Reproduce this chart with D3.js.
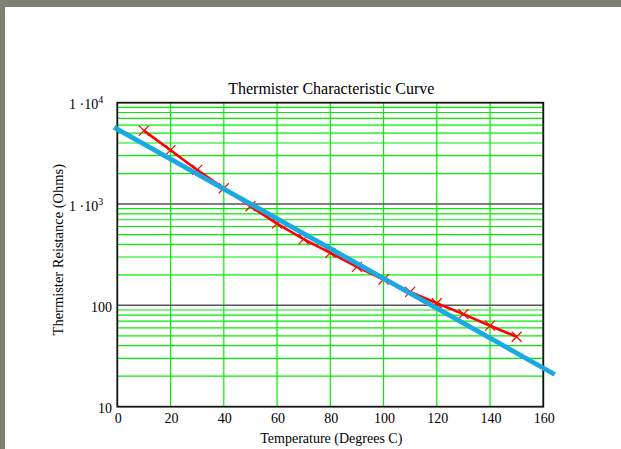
<!DOCTYPE html>
<html lang="en">
<head>
	<meta charset="utf-8">
	<title>Thermister Characteristic Curve</title>
	<script src='https://d3js.org/d3.v7.min.js'></script>
	<style>
		body {margin:0; background:#ffffff;}
		svg text {font-family:"Liberation Serif", "Times New Roman", serif; fill:#000;}
	</style>
</head>
<body>
	<div id="chart"></div>
	<script>
		var tempData = [10, 20, 30, 40, 50, 60, 70, 80, 90, 100, 110, 120, 130, 140, 150];
		var resistanceData = [5300, 3400, 2170, 1430, 950, 640, 450, 330, 240, 180, 136, 105, 82, 63, 49];
		// straight-line fit (end points only)
		var fitTemps = [-1.2, 164.3];
		var fitResistance = [5720, 20.8];
		// axis ticks
		var xTicks = [0, 20, 40, 60, 80, 100, 120, 140, 160];
		var yDecades = [10, 100, 1000, 10000];
		var yLabels = [["10", ""], ["100", ""], ["1 \u00b710", "3"], ["1 \u00b710", "4"]];

		const width = 621;
		const height = 449;
		const plotLeft = 117.3, plotRight = 543.3, plotTop = 102.7, plotBottom = 406.7;

		var svg = d3.select("#chart")
					.append("svg")
					.attr("width", width)
					.attr("height", height);

		// grey window frame on top and left
		svg.append("rect").attr("x", 0).attr("y", 0).attr("width", width).attr("height", 7).attr("fill", "#7f8072");
		svg.append("rect").attr("x", 0).attr("y", 0).attr("width", 5).attr("height", height).attr("fill", "#7f8072");

		var x = d3.scaleLinear().domain([0, 160]).range([plotLeft, plotRight]);
		var y = d3.scaleLog().domain([10, 10000]).range([plotBottom, plotTop]);

		// minor horizontal grid (2..9 of each decade)
		var minor = [];
		yDecades.slice(0, 3).forEach(function (d) {
			for (var k = 2; k <= 9; k++) { minor.push(d * k); }
		});
		svg.append("g").selectAll("line")
			.data(minor)
			.enter().append("line")
			.attr("x1", plotLeft).attr("x2", plotRight)
			.attr("y1", function (d) { return y(d); })
			.attr("y2", function (d) { return y(d); })
			.attr("stroke", "#00ee00")
			.attr("stroke-width", 1.2);

		// vertical grid
		svg.append("g").selectAll("line")
			.data(xTicks.slice(1))
			.enter().append("line")
			.attr("x1", function (d) { return x(d); })
			.attr("x2", function (d) { return x(d); })
			.attr("y1", plotTop).attr("y2", plotBottom)
			.attr("stroke", "#00ee00")
			.attr("stroke-width", 1.2);

		// decade lines
		svg.append("g").selectAll("line")
			.data(yDecades.slice(1, 3))
			.enter().append("line")
			.attr("x1", plotLeft).attr("x2", plotRight)
			.attr("y1", function (d) { return y(d); })
			.attr("y2", function (d) { return y(d); })
			.attr("stroke", "#555")
			.attr("stroke-width", 1.5);

		// border
		svg.append("rect")
			.attr("x", plotLeft).attr("y", plotTop)
			.attr("width", plotRight - plotLeft).attr("height", plotBottom - plotTop)
			.attr("fill", "none")
			.attr("stroke", "#111")
			.attr("stroke-width", 1.8);

		// measured curve
		var line = d3.line()
					.x(function (d, i) { return x(tempData[i]); })
					.y(function (d) { return y(d); });
		svg.append("path")
			.datum(resistanceData)
			.attr("d", line)
			.attr("fill", "none")
			.attr("stroke", "#ff0000")
			.attr("stroke-width", 2.6);

		svg.append("g").selectAll("path")
			.data(resistanceData)
			.enter().append("path")
			.attr("transform", function (d, i) { return "translate(" + x(tempData[i]) + "," + y(d) + ")"; })
			.attr("d", "M-5,-5L5,5M-5,5L5,-5")
			.attr("stroke", "#ff0000")
			.attr("stroke-width", 1.2)
			.attr("fill", "none");

		// fitted line
		var fitLine = d3.line()
					.x(function (d, i) { return x(fitTemps[i]); })
					.y(function (d) { return y(d); });
		svg.append("path")
			.datum(fitResistance)
			.attr("d", fitLine)
			.attr("fill", "none")
			.attr("stroke", "#1aa9e3")
			.attr("stroke-width", 4.8);

		// x tick labels
		svg.append("g").selectAll("text")
			.data(xTicks)
			.enter().append("text")
			.attr("x", function (d) { return x(d) + 1; })
			.attr("y", 423)
			.style("text-anchor", "middle")
			.style("font-size", "14px")
			.text(function (d) { return d; });

		// y tick labels
		var yl = svg.append("g").selectAll("text")
			.data(yDecades)
			.enter().append("text")
			.attr("x", function (d, i) { return yLabels[i][1] ? 69 : 112; })
			.attr("y", function (d) { return y(d) + 6.5; })
			.style("text-anchor", function (d, i) { return yLabels[i][1] ? "start" : "end"; })
			.style("font-size", "14px");
		yl.append("tspan").text(function (d, i) { return yLabels[i][0]; });
		yl.append("tspan")
			.attr("dy", -6)
			.style("font-size", "10px")
			.text(function (d, i) { return yLabels[i][1]; });

		// titles
		svg.append("text")
			.attr("x", (plotLeft + plotRight) / 2 + 1)
			.attr("y", 94)
			.style("text-anchor", "middle")
			.style("font-size", "16px")
			.text("Thermister Characteristic Curve");

		svg.append("text")
			.attr("x", (plotLeft + plotRight) / 2 + 1)
			.attr("y", 443)
			.style("text-anchor", "middle")
			.style("font-size", "14px")
			.text("Temperature (Degrees C)");

		svg.append("text")
			.attr("transform", "translate(63," + ((plotTop + plotBottom) / 2 - 5) + ") rotate(-90)")
			.style("text-anchor", "middle")
			.style("font-size", "14.5px")
			.text("Thermister Reistance (Ohms)");
	</script>
</body>
</html>
